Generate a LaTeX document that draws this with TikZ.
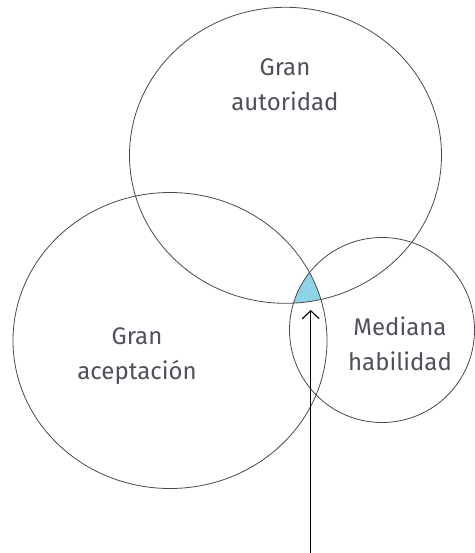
\documentclass[tikz,border=0pt]{standalone}
\usepackage{fontspec}
\setmainfont{Fira Sans}
\usetikzlibrary{arrows.meta,positioning}
\definecolor{ringgray}{RGB}{72,72,82}
\definecolor{textgray}{RGB}{78,80,90}
\definecolor{overlapblue}{RGB}{143,212,230}

\begin{document}
\begin{tikzpicture}[x=1pt, y=-1pt, line cap=round, line join=round,
		ring/.style={draw=ringgray, line width=0.8pt},
		label/.style={align=center, text=textgray, font=\fontsize{24}{35}\selectfont},
		pointer/.style={line width=1.2pt, -{Straight Barb[length=8pt,width=17pt,line width=1.1pt]}}]
		
		\useasboundingbox (0,0) rectangle (474,553);
		
		% centres of the three sets
		\coordinate (cA) at (285.5,155.3);
		\coordinate (cB) at (170,340.5);
		\coordinate (cC) at (382,330);
		
		% common part of all three
		\begin{scope}
			\clip (cA) ellipse [x radius=156, y radius=148];
			\clip (cB) ellipse [x radius=157, y radius=148];
			\fill[overlapblue] (cC) circle (92.5);
		\end{scope}
		
		% the three sets
		\draw[ring] (cA) ellipse [x radius=156, y radius=148];
		\draw[ring] (cB) ellipse [x radius=157, y radius=148];
		\draw[ring] (cC) circle (92.5);
		
		% labels
		\node[label] (autoridad) at (285,85) {Gran\\autoridad};
		\node[label] (aceptacion) at (137,356) {Gran\\aceptación};
		\node[label] (habilidad) at (400,344) {Mediana\\habilidad};
		
		% arrow pointing at the overlap
		\coordinate (foot) at (310.7,553);
		\coordinate (overlap) at (310.7,310);
		\draw[pointer] (foot) -- (overlap);
		
	\end{tikzpicture}
\end{document}
